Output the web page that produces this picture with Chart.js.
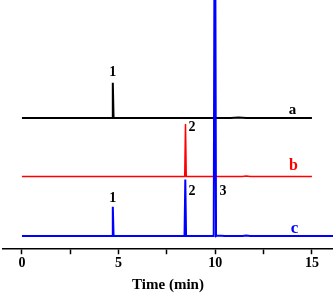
<!DOCTYPE html>
<html>
<head>
<meta charset="utf-8">
<script src="https://cdn.jsdelivr.net/npm/chart.js@4.4.0/dist/chart.umd.min.js"></script>
<style>
    html, body { margin: 0; padding: 0; background: #fff; }
    #wrap { width: 333px; height: 295px; position: relative; }
</style>
</head>
<body>
<div id="wrap"><canvas id="chromChart"></canvas></div>
<script>
// Retention times (min) and detector response, traces stacked with offsets
const timeA = [0, 4.62, 4.66, 4.70, 4.74, 10.8, 11.2, 11.6, 15];
const signalA = [130, 130, 130, 165, 130, 130, 130.5, 130, 130];

const timeB = [0, 8.38, 8.42, 8.46, 8.50, 11.4, 11.6, 11.8, 15];
const signalB = [72, 72, 72, 124, 72, 72, 72.6, 72, 72];

const timeC = [0, 4.62, 4.66, 4.70, 4.74, 8.36, 8.41, 8.45, 8.49, 9.92, 9.96, 10.00, 10.04, 10.10, 10.5, 11.4, 11.6, 11.8, 16.5];
const signalC = [13, 13, 13, 42, 13, 13, 13, 69, 13, 13, 300, 300, 13, 13.6, 13, 13, 13.6, 13, 13];

// Text labels placed in data coordinates
const labelText = ['1', '2', '1', '2', '3', 'a', 'b', 'c'];
const labelTime = [4.7, 8.8, 4.7, 8.8, 10.4, 14.0, 14.05, 14.1];
const labelSignal = [175, 121, 50, 57, 57, 138, 83, 20];
const labelColor = ['#000', '#000', '#000', '#000', '#000', '#000', '#ff0000', '#0000ff'];
const labelSize = [14, 14, 14, 14, 14, 15, 16, 17];

const xTicks = [0, 2.5, 5, 7.5, 10, 12.5, 15];

function toPoints(xs, ys) {
    return xs.map((x, i) => ({ x: x, y: ys[i] }));
}

const peakLabels = {
    id: 'peakLabels',
    afterDatasetsDraw(chart) {
        const ctx = chart.ctx;
        const xs = chart.scales.x;
        const ys = chart.scales.y;
        ctx.save();
        ctx.textAlign = 'center';
        ctx.textBaseline = 'middle';
        labelText.forEach((t, i) => {
            ctx.font = 'bold ' + labelSize[i] + 'px "Liberation Serif", "Times New Roman", serif';
            ctx.fillStyle = labelColor[i];
            ctx.fillText(t, xs.getPixelForValue(labelTime[i]), ys.getPixelForValue(labelSignal[i]));
        });
        ctx.restore();
    }
};

const ctx = document.getElementById('chromChart').getContext('2d');
new Chart(ctx, {
    type: 'line',
    data: {
        datasets: [
            {
                data: toPoints(timeC, signalC),
                borderColor: '#0000ff',
                borderWidth: 2,
                order: 0
            },
            {
                data: toPoints(timeB, signalB),
                borderColor: '#ff0000',
                borderWidth: 1.5,
                order: 1
            },
            {
                data: toPoints(timeA, signalA),
                borderColor: '#000000',
                borderWidth: 2,
                order: 2
            }
        ]
    },
    options: {
        responsive: true,
        maintainAspectRatio: false,
        animation: false,
        elements: {
            point: { radius: 0 },
            line: { tension: 0, borderJoinStyle: 'miter' }
        },
        layout: {
            padding: { left: 3, right: 0, top: 0, bottom: 0 }
        },
        plugins: {
            legend: { display: false },
            tooltip: { enabled: false }
        },
        scales: {
            x: {
                type: 'linear',
                min: -0.98,
                max: 16.09,
                afterBuildTicks: axis => {
                    axis.ticks = xTicks.map(v => ({ value: v }));
                },
                grid: {
                    drawOnChartArea: false,
                    drawTicks: true,
                    tickLength: 5,
                    tickColor: '#000',
                    tickWidth: 1.5
                },
                border: { color: '#000', width: 1.5 },
                ticks: {
                    autoSkip: false,
                    maxRotation: 0,
                    color: '#000',
                    padding: 1,
                    font: { family: '"Liberation Serif", "Times New Roman", serif', size: 14, weight: 'bold' },
                    callback: v => (v % 5 === 0 ? String(v) : '')
                },
                title: {
                    display: true,
                    text: 'Time (min)',
                    color: '#000',
                    padding: { top: 3, bottom: 1 },
                    font: { family: '"Liberation Serif", "Times New Roman", serif', size: 15, weight: 'bold' }
                }
            },
            y: {
                display: false,
                min: 0,
                max: 247
            }
        }
    },
    plugins: [peakLabels]
});
</script>
</body>
</html>
